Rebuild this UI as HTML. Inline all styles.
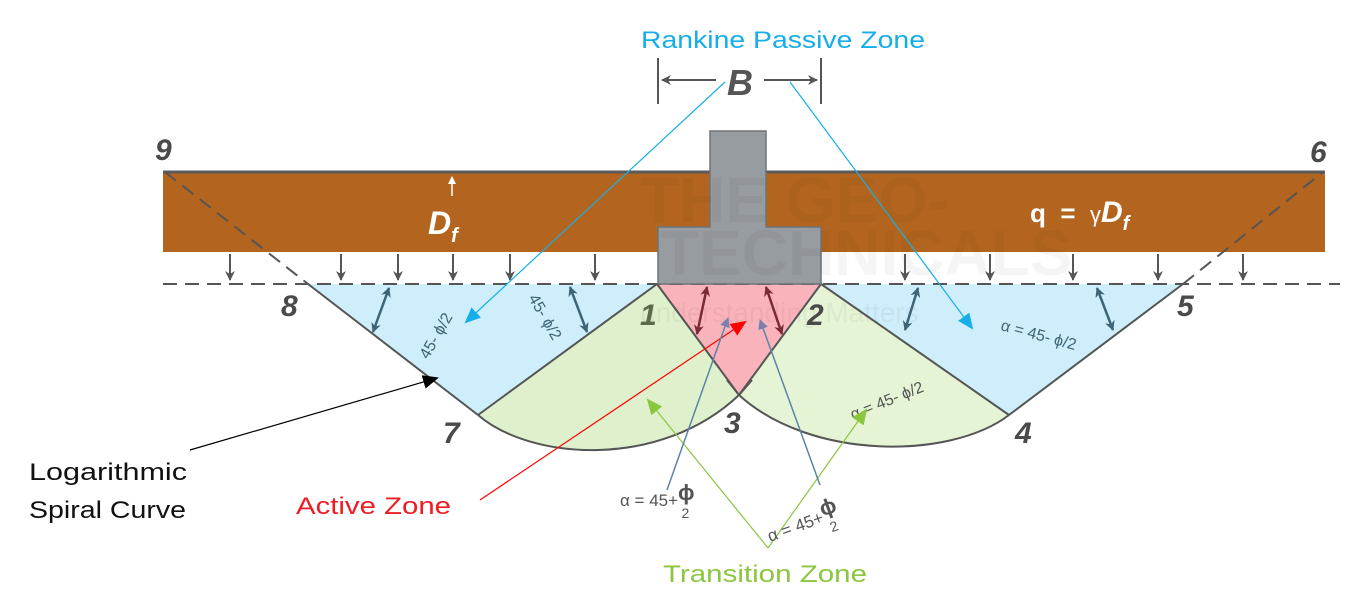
<!DOCTYPE html>
<html><head><meta charset="utf-8"><style>
html,body{margin:0;padding:0;background:#fff;}
svg{display:block;font-family:"Liberation Sans",sans-serif;}
</style></head><body>
<svg width="1353" height="613" viewBox="0 0 1353 613" xmlns="http://www.w3.org/2000/svg">
<defs>
<marker id="ag" markerWidth="10" markerHeight="10" refX="9" refY="5" orient="auto" markerUnits="userSpaceOnUse"><path d="M0,0 L10,5 L0,10 L3,5 z" fill="#555"/></marker>
<marker id="ab" markerWidth="16" markerHeight="14" refX="14" refY="7" orient="auto" markerUnits="userSpaceOnUse"><path d="M0,0 L16,7 L0,14 z" fill="#16aee8"/></marker>
<marker id="ar" markerWidth="16" markerHeight="14" refX="14" refY="7" orient="auto" markerUnits="userSpaceOnUse"><path d="M0,0 L16,7 L0,14 z" fill="#ff0000"/></marker>
<marker id="agr" markerWidth="16" markerHeight="14" refX="14" refY="7" orient="auto" markerUnits="userSpaceOnUse"><path d="M0,0 L16,7 L0,14 z" fill="#8cc63f"/></marker>
<marker id="ak" markerWidth="16" markerHeight="14" refX="14" refY="7" orient="auto" markerUnits="userSpaceOnUse"><path d="M0,0 L16,7 L0,14 z" fill="#000"/></marker>
<marker id="asl" markerWidth="10" markerHeight="10" refX="9" refY="5" orient="auto" markerUnits="userSpaceOnUse"><path d="M0,0 L10,5 L0,10 z" fill="#7d7fb0"/></marker>
<marker id="aw" markerWidth="8" markerHeight="8" refX="7" refY="4" orient="auto" markerUnits="userSpaceOnUse"><path d="M0,0 L8,4 L0,8 z" fill="#fff"/></marker>
<marker id="dm" markerWidth="10" markerHeight="10" refX="9" refY="5" orient="auto-start-reverse" markerUnits="userSpaceOnUse"><path d="M0,0 L10,5 L0,10 L3,5 z" fill="#3e6477"/></marker>
<marker id="dr" markerWidth="10" markerHeight="10" refX="9" refY="5" orient="auto-start-reverse" markerUnits="userSpaceOnUse"><path d="M0,0 L10,5 L0,10 L3,5 z" fill="#7a2a35"/></marker>
</defs>

<rect x="163" y="172" width="1162" height="80" fill="#b3651f"/>
<line x1="163" y1="172" x2="1325" y2="172" stroke="#5a5a5a" stroke-width="3"/>

<polygon points="308,284 657,284 478,415" fill="#cdeefa"/>
<polygon points="821,284 1183,284 1009,415" fill="#cdeefa"/>
<path d="M657,284 L478,415 C530,460 660,470 739,395 Z" fill="#dff0cc"/>
<path d="M821,284 L1009,415 C950,460 810,460 739,395 Z" fill="#e6f4d6"/>
<polygon points="657,284 821,284 739,395" fill="#fbb3bb"/>

<g stroke="#555" stroke-width="2" fill="none">
<line x1="308" y1="284" x2="478" y2="415"/>
<line x1="657" y1="284" x2="478" y2="415"/>
<line x1="1183" y1="284" x2="1009" y2="415"/>
<line x1="821" y1="284" x2="1009" y2="415"/>
<line x1="657" y1="284" x2="739" y2="395"/>
<line x1="821" y1="284" x2="739" y2="395"/>
<path d="M478,415 C530,460 660,470 739,395 L752,380"/>
<path d="M1009,415 C950,460 810,460 739,395 L727,380"/>
</g>
<g stroke="#555" stroke-width="2" stroke-dasharray="14,8" fill="none">
<line x1="163" y1="284" x2="1340" y2="284"/>
<line x1="165" y1="172" x2="308" y2="284"/>
<line x1="1183" y1="284" x2="1323" y2="172"/>
</g>

<path d="M710,131 H766 V227 H821 V284 H658 V227 H710 Z" fill="#979ca0" stroke="#6e7377" stroke-width="1.5"/>

<text x="640" y="222" font-size="64" font-weight="bold" fill="#000" opacity="0.035">THE GEO-</text>
<text x="660" y="275" font-size="64" font-weight="bold" fill="#000" opacity="0.035">TECHNICALS</text>
<text x="640" y="322" font-size="28" fill="#000" opacity="0.04">understanding Matters</text>

<g stroke="#555" stroke-width="2" marker-end="url(#ag)">
<line x1="230" y1="254" x2="230" y2="280"/><line x1="341" y1="254" x2="341" y2="280"/>
<line x1="398" y1="254" x2="398" y2="280"/><line x1="453" y1="254" x2="453" y2="280"/>
<line x1="510" y1="254" x2="510" y2="280"/><line x1="595" y1="254" x2="595" y2="280"/>
<line x1="905" y1="254" x2="905" y2="280"/><line x1="990" y1="254" x2="990" y2="280"/>
<line x1="1073" y1="254" x2="1073" y2="280"/><line x1="1158" y1="254" x2="1158" y2="280"/>
<line x1="1243" y1="254" x2="1243" y2="280"/>
</g>

<g stroke="#3e6477" stroke-width="2.5" marker-start="url(#dm)" marker-end="url(#dm)">
<line x1="373" y1="332" x2="389" y2="288"/>
<line x1="570" y1="287" x2="587" y2="332"/>
<line x1="905" y1="330" x2="918" y2="288"/>
<line x1="1097" y1="288" x2="1113" y2="330"/>
</g>
<g stroke="#7a2a35" stroke-width="2.5" marker-start="url(#dr)" marker-end="url(#dr)">
<line x1="707" y1="287" x2="697" y2="334"/>
<line x1="766" y1="287" x2="782" y2="334"/>
</g>

<g fill="#3e6477" font-size="16">
<text transform="translate(428,360) rotate(-60)">45- ϕ/2</text>
<text transform="translate(528,298) rotate(60)">45- ϕ/2</text>
<text transform="translate(1000,330) rotate(15)">α = 45- ϕ/2</text>
</g>
<text transform="translate(853,420) rotate(-22)" fill="#555" font-size="16">α = 45- ϕ/2</text>

<g fill="#4a4a4a" font-size="30" font-weight="bold" font-style="italic">
<text x="155" y="160">9</text><text x="1310" y="162">6</text>
<text x="281" y="316">8</text><text x="443" y="443">7</text>
<text x="724" y="433">3</text><text x="1015" y="443">4</text>
<text x="1177" y="316">5</text>
<text x="640" y="325" fill="#5a6a4a">1</text><text x="807" y="325">2</text>
</g>

<line x1="452" y1="196" x2="452" y2="177" stroke="#fff" stroke-width="1.5" marker-end="url(#aw)"/>
<text x="428" y="234" fill="#fff" font-size="32" font-weight="bold" font-style="italic">D<tspan font-size="20" dy="8">f</tspan></text>
<text x="1030" y="222" fill="#fff" font-size="26" font-weight="bold">q&#160;&#160;=&#160;&#160;<tspan font-weight="normal" font-size="22">γ</tspan><tspan font-style="italic" font-size="30">D</tspan><tspan font-style="italic" font-size="20" dy="8">f</tspan></text>

<g stroke="#555" stroke-width="2">
<line x1="658" y1="58" x2="658" y2="104"/><line x1="821" y1="58" x2="821" y2="104"/>
<line x1="716" y1="80" x2="662" y2="80" marker-end="url(#ag)"/>
<line x1="764" y1="80" x2="817" y2="80" marker-end="url(#ag)"/>
</g>
<text x="740" y="95" text-anchor="middle" fill="#555" font-size="36" font-weight="bold" font-style="italic">B</text>

<text x="641" y="48" fill="#16aee8" font-size="24" textLength="284" lengthAdjust="spacingAndGlyphs">Rankine Passive Zone</text>
<line x1="725" y1="82" x2="466" y2="322" stroke="#16aee8" stroke-width="1.2" marker-end="url(#ab)"/>
<line x1="790" y1="82" x2="972" y2="328" stroke="#16aee8" stroke-width="1.2" marker-end="url(#ab)"/>

<text x="296" y="514" fill="#ef1c24" font-size="24" textLength="155" lengthAdjust="spacingAndGlyphs">Active Zone</text>
<line x1="480" y1="500" x2="745" y2="322" stroke="#ff0000" stroke-width="1.2" marker-end="url(#ar)"/>

<text x="663" y="582" fill="#8cc63f" font-size="24" textLength="204" lengthAdjust="spacingAndGlyphs">Transition Zone</text>
<line x1="768" y1="548" x2="648" y2="400" stroke="#8cc63f" stroke-width="1.2" marker-end="url(#agr)"/>
<line x1="768" y1="548" x2="866" y2="410" stroke="#8cc63f" stroke-width="1.2" marker-end="url(#agr)"/>

<line x1="667" y1="490" x2="728" y2="318" stroke="#5a84a8" stroke-width="1.5" marker-end="url(#asl)"/>
<line x1="820" y1="485" x2="760" y2="320" stroke="#5a84a8" stroke-width="1.5" marker-end="url(#asl)"/>
<text x="620" y="506" fill="#555" font-size="17">α = 45+<tspan font-size="22" font-weight="bold" dy="-6">ϕ</tspan><tspan font-size="14" dx="-13" dy="18">2</tspan></text>
<text transform="translate(770,542) rotate(-20)" fill="#555" font-size="17">α = 45+<tspan font-size="22" font-weight="bold" dy="-6">ϕ</tspan><tspan font-size="14" dx="-13" dy="18">2</tspan></text>

<text x="29" y="480" fill="#111" font-size="24" textLength="158" lengthAdjust="spacingAndGlyphs">Logarithmic</text>
<text x="29" y="518" fill="#111" font-size="24" textLength="157" lengthAdjust="spacingAndGlyphs">Spiral Curve</text>
<line x1="190" y1="450" x2="437" y2="378" stroke="#000" stroke-width="1.2" marker-end="url(#ak)"/>
</svg>
</body></html>
